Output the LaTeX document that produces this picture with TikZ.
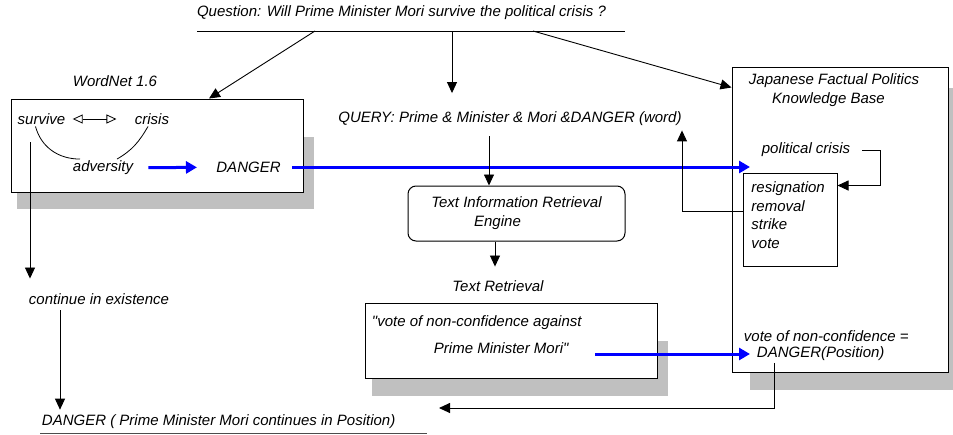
\documentclass[tikz,border=0pt]{standalone}
\usepackage{fontspec}
\setmainfont{Liberation Sans}[Ligatures=TeXOff]
\usetikzlibrary{arrows.meta,positioning}
\definecolor{shadowgray}{RGB}{192,192,192}
\definecolor{kbblue}{RGB}{0,0,255}

\tikzset{
  box/.style={draw, fill=white, line width=1pt, inner sep=0pt},
  label/.style={inner sep=1.5pt},
  link/.style={->, line width=0.9pt},
  bluelink/.style={-{Triangle[length=11pt,width=12pt]}, draw=kbblue, line width=3pt},
  openlink/.style={{Triangle[open,length=10pt,width=9pt]}-{Triangle[open,length=10pt,width=9pt]}, line width=0.8pt},
}

\begin{document}
\begin{tikzpicture}[x=1pt, y=1pt, line width=0.9pt, >={Triangle[length=11pt,width=10pt]}, font=\fontsize{15}{19}\selectfont\itshape]
\useasboundingbox (0,0) rectangle (953,-434);

% shadows
\fill[shadowgray] (17,-137) rectangle (314,-209);
\fill[shadowgray] (372,-341) rectangle (668,-396);
\fill[shadowgray] (750,-88) rectangle (953,-390);

% boxes
\node[box, minimum width=292pt, minimum height=93pt] (wordnet_box) at (157,-145.5) {};
\node[box, rounded corners=8pt, minimum width=217pt, minimum height=55pt, align=center] (engine) at (516.5,-213.5) {Text Information Retrieval\\ Engine\hspace*{38pt}};
\node[box, minimum width=292pt, minimum height=75pt] (retrieval_box) at (511,-340.5) {};
\node[box, minimum width=216pt, minimum height=305pt] (kb_box) at (840,-219.5) {};
\node[box, minimum width=94pt, minimum height=93pt] (terms_box) at (790,-219.5) {};

% question
\node[label] (question) at (401.5,-13) {Question: Will Prime Minister Mori survive the political crisis ?};
\coordinate (q_left) at (197,-31);
\coordinate (q_right) at (625,-31);
\coordinate (q_wn) at (315,-31);
\coordinate (q_mid) at (452,-31);
\coordinate (q_kb) at (533,-31);
\draw (q_left) -- (q_right);

% WordNet side
\node[label] (wordnet) at (115,-81) {WordNet 1.6};
\node[label] (survive) at (41.5,-119) {survive};
\node[label] (crisis) at (152,-119) {crisis};
\node[label] (adversity) at (103,-168) {adversity};
\node[label] (wn_danger) at (248.5,-167) {DANGER};
\node[label] (existence) at (99,-299) {continue in existence};
\node[label, anchor=west] (final) at (40,-422) {DANGER ( Prime Minister Mori continues in Position)};
\draw[black!70] ([yshift=-2.5pt]final.south west) -- ++(387,0);

% retrieval side
\node[label] (query) at (510,-119) {QUERY: Prime \& Minister \& Mori \&DANGER (word)};
\node[label] (retr_label) at (498,-286) {Text Retrieval};
\node[label, anchor=west] (quote1) at (370,-323) {"vote of non-confidence against};
\node[label, anchor=west] (quote2) at (432,-348) {Prime Minister Mori"};

% knowledge base
\node[label, align=center] (kb_title) at (834,-90.5) {Japanese Factual Politics\\ Knowledge Base\hspace*{11pt}};
\node[label] (polcrisis) at (806,-150) {political crisis};
\node[label, align=left, anchor=north west, font=\fontsize{15}{18.7}\selectfont\itshape] (terms) at (749.5,-179.5) {resignation\\ removal\\ strike\\ vote};
\node[label, anchor=west] (vote_conf) at (742,-336) {vote of non-confidence =};
\node[label, anchor=west] (danger_pos) at (755,-354) {DANGER(Position)};
\coordinate (kb_in) at (750,-167);
\coordinate (ret_end) at (439,-408);

% connectors
\draw[link] (q_wn) -- ([xshift=52pt]wordnet_box.north);
\draw[link, shorten >=17pt] (q_mid) -- (q_mid |- query.north);
\draw[link] (q_kb) -- ([yshift=-21pt]kb_box.north west);

\draw[openlink, shorten <=5.5pt, shorten >=16.5pt] (survive) -- (crisis);
\draw[line width=0.8pt] ([xshift=-6pt]survive.south) to[out=-75,in=180] ([xshift=-23pt]adversity.north);
\draw[line width=0.8pt] ([xshift=-4pt]crisis.south) to[out=-120,in=30] ([xshift=14pt]adversity.north);
\draw[bluelink, shorten <=13.5pt, shorten >=17.5pt] (adversity) -- (wn_danger);
\draw[bluelink, shorten <=9.5pt] (wn_danger) -- (kb_in);

\draw[link, shorten >=13pt] ([xshift=-11.5pt,yshift=-16pt]survive.south) -- ([xshift=-11.5pt]survive.south |- existence.north);
\draw[link, shorten >=3.4pt] ([xshift=-39pt,yshift=-4pt]existence.south) -- ([xshift=-39pt]existence.south |- final.north);

\draw[link] ([xshift=-21pt,yshift=-8.5pt]query.south) -- ([xshift=-21pt]query.south |- engine.north);
\draw[link, shorten >=12pt] ([xshift=-21.5pt]engine.south) -- ([xshift=-21.5pt]engine.south |- retr_label.north);

\draw[link] ([xshift=10pt]polcrisis.east) -- ++(18pt,0) |- ([yshift=-13pt]terms_box.north east);
\draw[link, shorten >=2.5pt] ([yshift=8.5pt]terms_box.west) -| ([xshift=-1.5pt]query.south east);

\draw[bluelink] ([xshift=25pt]quote2.east |- danger_pos.west) -- ([xshift=-5pt]danger_pos.west);
\draw[link] ([xshift=19pt]danger_pos.south west) |- (ret_end);
\end{tikzpicture}
\end{document}
